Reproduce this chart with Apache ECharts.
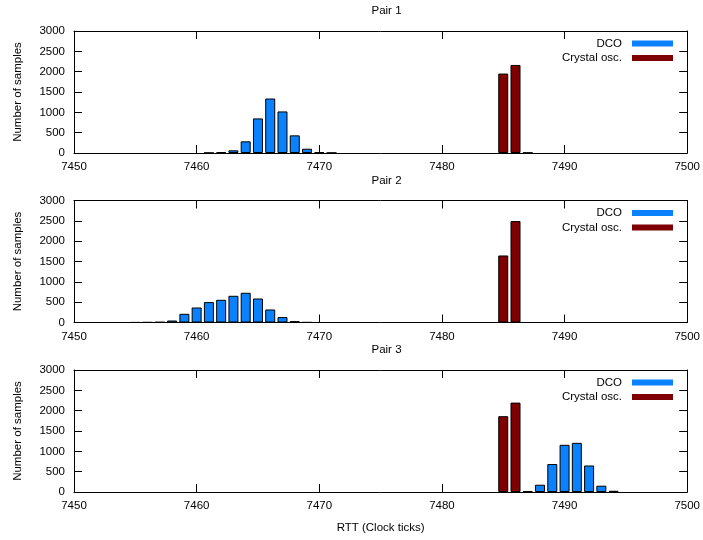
<!DOCTYPE html>
<html>
<head>
<meta charset="utf-8">
<script src="https://cdn.jsdelivr.net/npm/echarts@6/dist/echarts.min.js"></script>
<style>
  html, body { margin: 0; padding: 0; background: #fff; }
  #chart { width: 703px; height: 540px; }
</style>
</head>
<body>
<div id="chart"></div>
<script>
// RTT histograms (clock ticks -> number of samples) for three node pairs
const panelTitles = ['Pair 1', 'Pair 2', 'Pair 3'];
const seriesNames = ['DCO', 'Crystal osc.'];
const xTicks = { min: 7450, max: 7500, step: 10 };
const yTicks = { min: 0, max: 3000, step: 500 };

const pair1DcoBins = [7461, 7462, 7463, 7464, 7465, 7466, 7467, 7468, 7469, 7470, 7471];
const pair1DcoCounts = [4, 22, 66, 287, 850, 1340, 1022, 434, 105, 18, 5];
const pair1XtalBins = [7485, 7486, 7487];
const pair1XtalCounts = [1953, 2165, 8];

const pair2DcoBins = [7455, 7456, 7457, 7458, 7459, 7460, 7461, 7462, 7463, 7464, 7465, 7466, 7467, 7468, 7469];
const pair2DcoCounts = [3, 6, 12, 49, 214, 369, 502, 558, 657, 731, 590, 320, 133, 34, 5];
const pair2XtalBins = [7485, 7486];
const pair2XtalCounts = [1648, 2494];

const pair3DcoBins = [7487, 7488, 7489, 7490, 7491, 7492, 7493, 7494];
const pair3DcoCounts = [25, 179, 687, 1160, 1209, 652, 155, 30];
const pair3XtalBins = [7485, 7486];
const pair3XtalCounts = [1864, 2198];

const dcoSets = [[pair1DcoBins, pair1DcoCounts], [pair2DcoBins, pair2DcoCounts], [pair3DcoBins, pair3DcoCounts]];
const xtalSets = [[pair1XtalBins, pair1XtalCounts], [pair2XtalBins, pair2XtalCounts], [pair3XtalBins, pair3XtalCounts]];

const colors = ['#0a82ff', '#7f0000'];
const font = 'Liberation Sans, Arial, Helvetica, sans-serif';
const fontSize = 11.5;
const gridTops = [31, 200.5, 370];
const gridHeight = 122;
const titleTops = [0, 170, 339];

const pairs = (bins, counts) => bins.map((b, i) => [b, counts[i]]);

const grid = [], xAxis = [], yAxis = [], series = [], title = [], legend = [];

const lineStyle = { color: '#000', width: 1 };
const labelStyle = { color: '#000', fontSize, fontFamily: font };
const plain = v => String(v);

for (let p = 0; p < 3; p++) {
  grid.push({ left: 74, right: 14, top: gridTops[p], height: gridHeight });

  title.push({
    text: panelTitles[p], left: 381.5, top: titleTops[p], textAlign: 'center',
    textStyle: { fontSize, fontWeight: 'normal', color: '#000', fontFamily: font }
  });

  legend.push({
    data: seriesNames, orient: 'vertical', right: 30, top: gridTops[p] + 6.5,
    align: 'right', itemWidth: 41, itemHeight: 6, itemGap: 2.5, padding: 0,
    icon: 'rect', selectedMode: false,
    itemStyle: { borderWidth: 0 },
    formatter: name => '{t|' + name + '}',
    textStyle: { color: '#000', fontSize, fontFamily: font, rich: { t: { padding: [0, 5, 0, 0], fontSize, fontFamily: font } } }
  });
}

// bottom x axes (0..2) with labels, top x axes (3..5) only mirrored ticks
for (let side = 0; side < 2; side++) {
  for (let p = 0; p < 3; p++) {
    const bottom = side === 0;
    xAxis.push({
      type: 'value', gridIndex: p, position: bottom ? 'bottom' : 'top',
      min: xTicks.min, max: xTicks.max, interval: xTicks.step,
      axisLine: { show: true, onZero: false, lineStyle },
      axisTick: { show: true, inside: true, length: 8, lineStyle },
      axisLabel: { show: bottom, margin: 8, formatter: plain, ...labelStyle },
      splitLine: { show: false },
      name: (bottom && p === 2) ? 'RTT (Clock ticks)' : '',
      nameLocation: 'middle', nameGap: 30,
      nameTextStyle: labelStyle
    });
    yAxis.push({
      type: 'value', gridIndex: p, position: bottom ? 'left' : 'right',
      min: yTicks.min, max: yTicks.max, interval: yTicks.step,
      axisLine: { show: true, onZero: false, lineStyle },
      axisTick: { show: true, inside: true, length: 8, lineStyle },
      axisLabel: { show: bottom, margin: 9, formatter: plain, ...labelStyle },
      splitLine: { show: false },
      name: bottom ? 'Number of samples' : '',
      nameLocation: 'middle', nameGap: 50,
      nameTextStyle: labelStyle
    });
  }
}

for (let p = 0; p < 3; p++) {
  [dcoSets[p], xtalSets[p]].forEach((set, k) => {
    series.push({
      type: 'bar', name: seriesNames[k], xAxisIndex: p, yAxisIndex: p,
      data: pairs(set[0], set[1]),
      barWidth: 10, barGap: '-100%',
      itemStyle: { color: colors[k], borderColor: '#000', borderWidth: 1 },
      silent: true, animation: false
    });
  });
}

const chart = echarts.init(document.getElementById('chart'), null, { renderer: 'canvas' });
chart.setOption({
  backgroundColor: '#fff', animation: false, color: colors,
  title, legend, grid, xAxis, yAxis, series
});
</script>
</body>
</html>
